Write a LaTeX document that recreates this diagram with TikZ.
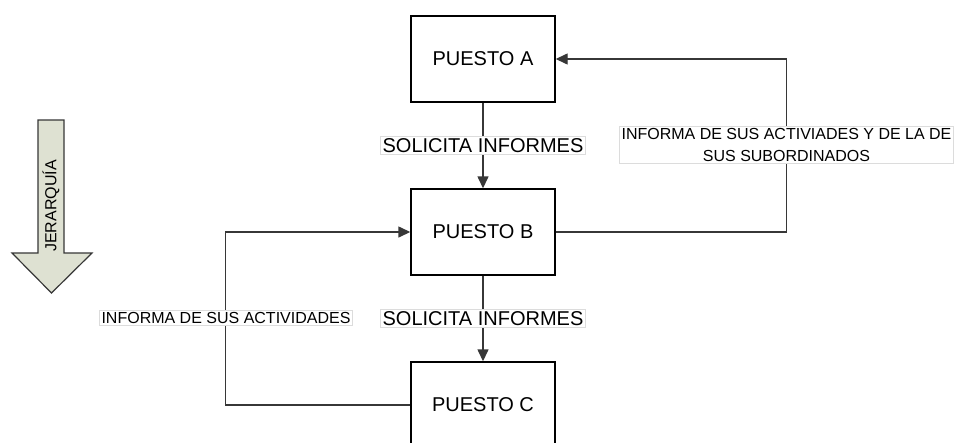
\documentclass[tikz,border=0pt]{standalone}
\usepackage{fontspec}
\setmainfont{Liberation Sans}
\usetikzlibrary{arrows.meta}
\definecolor{linegray}{RGB}{55,55,55}
\definecolor{labframe}{RGB}{220,220,220}
\definecolor{sage}{RGB}{222,225,210}
\tikzset{
  puesto/.style={draw=black, line width=1.4pt, fill=white, minimum width=144pt, minimum height=86pt, inner sep=0pt, font=\fontsize{20}{22}\selectfont},
  conn/.style={draw=linegray, line width=1.4pt, -{Triangle[length=12pt,width=11pt]}},
  labbig/.style={draw=labframe, line width=0.6pt, fill=white, inner sep=2pt, font=\fontsize{20}{22}\selectfont},
  labsmall/.style={draw=labframe, line width=0.6pt, fill=white, inner sep=2pt, font=\fontsize{16}{22}\selectfont, align=center},
  bigarrow/.style={draw=linegray, line width=1.2pt, fill=sage, line join=miter},
}
\begin{document}
\begin{tikzpicture}[x=1pt,y=-1pt]
\useasboundingbox (0,0) rectangle (956,442);
\clip (0,0) rectangle (956,442);
\fill[white] (0,0) rectangle (956,442);
% hierarchy arrow
\draw[bigarrow] (38,120) -- (64,120) -- (64,253) -- (92,253) -- (51.5,293) -- (12,253) -- (38,253) -- cycle;
\node[rotate=90, font=\fontsize{16}{18}\selectfont] (jer) at (51,206) {JERARQUÍA};
% boxes
\node[puesto] (A) at (483,59) {PUESTO A};
\node[puesto] (B) at (483,232) {PUESTO B};
\node[puesto] (C) at (483,405) {PUESTO C};
% vertical connectors
\draw[conn] (A.south) -- (B.north) node[labbig, midway] (lA) {SOLICITA INFORMES};
\draw[conn] (B.south) -- (C.north) node[labbig, midway] (lB) {SOLICITA INFORMES};
% right feedback
\draw[conn] (B.east) -- ++(231,0) coordinate (rb) |- (A.east);
\node[labsmall] (lR) at (786.5,145) {INFORMA DE SUS ACTIVIADES Y DE LA DE\\SUS SUBORDINADOS};
% left feedback
\draw[conn] (C.west) -- ++(-185,0) coordinate (lb) |- (B.west);
\node[labsmall] (lL) at (226,318) {INFORMA DE SUS ACTIVIDADES};
\end{tikzpicture}
\end{document}
